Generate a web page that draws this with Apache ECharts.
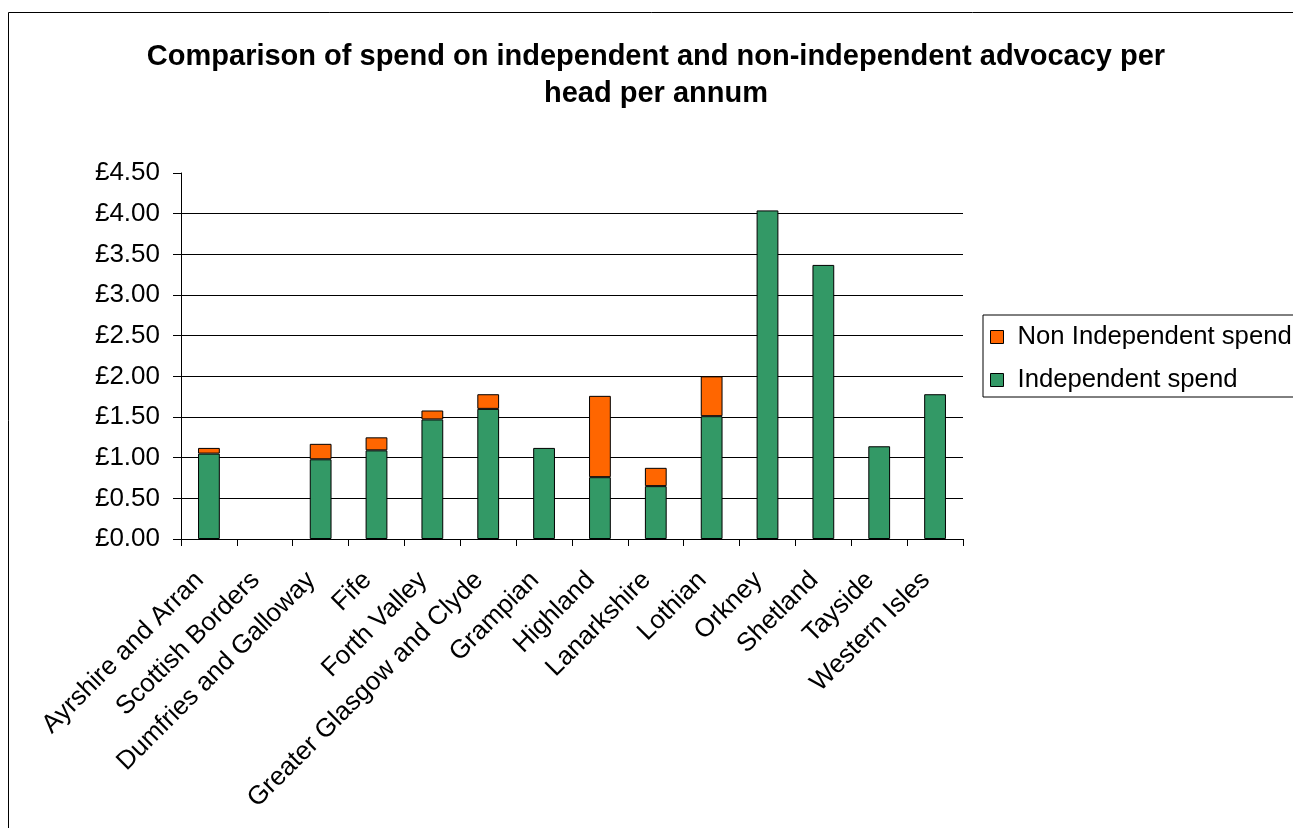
<!DOCTYPE html>
<html><head><meta charset="utf-8">
<script src="https://cdn.jsdelivr.net/npm/echarts@6/dist/echarts.min.js"></script>
<style>html,body{margin:0;padding:0;background:#fff}#c{width:1293px;height:828px}</style>
</head><body><div id="c"></div>
<script>
const categories = ["Ayrshire and Arran","Scottish Borders","Dumfries and Galloway","Fife","Forth Valley","Greater Glasgow and Clyde","Grampian","Highland","Lanarkshire","Lothian","Orkney","Shetland","Tayside","Western Isles"];
const independentSpend = [1.05, null, 0.98, 1.09, 1.47, 1.60, 1.12, 0.76, 0.65, 1.51, 4.04, 3.37, 1.14, 1.78];
const nonIndependentSpend = [0.07, null, 0.19, 0.16, 0.11, 0.18, null, 1.00, 0.225, 0.49, null, null, null, null];
const titleText = "Comparison of spend on independent and non-independent advocacy per\nhead per annum";

const chart = echarts.init(document.getElementById('c'));
const F = 'Liberation Sans, Arial, sans-serif';
chart.setOption({
  animation: false,
  textStyle: {fontFamily: F},
  graphic: [{type:'rect', shape:{x:8.5,y:12.5,width:1400,height:900}, style:{fill:'none', stroke:'#000', lineWidth:1}, silent:true}],
  title: {text: titleText, left: 656, top: 38, textAlign: 'center', padding:0,
    textStyle:{fontFamily:F, fontSize:29, fontWeight:'bold', color:'#000', lineHeight:37}},
  legend: {orient:'vertical', left: 983, top: 315, data:['Non Independent spend','Independent spend'],
    itemWidth:13, itemHeight:13, itemGap:17, padding:[9,20,4,7], borderColor:'#000', borderWidth:1,
    icon:'rect', textStyle:{fontFamily:F, fontSize:25.7, color:'#000', padding:[0,0,0,9]},
    itemStyle:{borderColor:'#000', borderWidth:1}},
  grid: {left:181, right:330, top:173, bottom:289, containLabel:false},
  xAxis: {type:'category', data:categories,
    axisLine:{lineStyle:{color:'#000', width:1}},
    axisTick:{show:true, length:7, lineStyle:{color:'#000'}, alignWithLabel:false},
    axisLabel:{rotate:45, fontSize:26, color:'#000', fontFamily:F, interval:0, margin:28, padding:[0,13,0,0]}},
  yAxis: {type:'value', min:0, max:4.5, interval:0.5,
    axisLine:{show:true, lineStyle:{color:'#000', width:1}},
    axisTick:{show:true, length:8, lineStyle:{color:'#000'}},
    splitLine:{showMaxLine:false, lineStyle:{color:'#000', width:1}},
    axisLabel:{fontSize:26, color:'#000', fontFamily:F, margin:21, padding:[4,0,0,0], formatter: v => '£' + v.toFixed(2)}},
  series: [
    {name:'Independent spend', type:'bar', stack:'s', data:independentSpend, barWidth:'39%',
      itemStyle:{color:'#339966', borderColor:'#000', borderWidth:1}},
    {name:'Non Independent spend', type:'bar', stack:'s', data:nonIndependentSpend, barWidth:'39%',
      itemStyle:{color:'#FF6600', borderColor:'#000', borderWidth:1}}
  ]
});
</script></body></html>
